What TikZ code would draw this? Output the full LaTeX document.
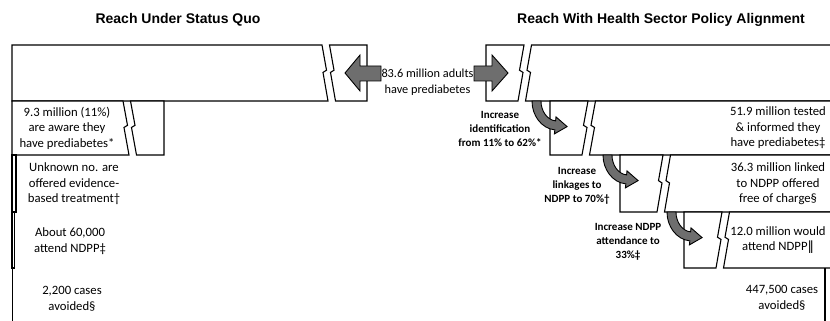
\documentclass[tikz,border=0pt]{standalone}
\usepackage{fontspec}
\setmainfont{Carlito}
\newfontfamily\headfont{Liberation Sans}
\newfontfamily\symfont{DejaVu Sans}
\definecolor{arrowgray}{RGB}{110,110,110}

% one bar row cut by a zigzag break: start, break, end, top, bottom, direction
\newcommand{\barpair}[6]{%
  \draw[bar] (#1,#4) -- (#2,#4) -- ({#2+(#6)*4.5},{#4+.45*(#5-#4)})
    -- ({#2+(#6)*1},{#4+.49*(#5-#4)}) -- ({#2+(#6)*6},#5) -- (#1,#5) -- cycle;
  \draw[bar] ({#2+7.5},#4) -- (#3,#4) -- (#3,#5) -- ({#2+7.5+(#6)*6},#5)
    -- ({#2+7.5+(#6)*1},{#4+.49*(#5-#4)}) -- ({#2+7.5+(#6)*4.5},{#4+.45*(#5-#4)}) -- cycle;
}
% curved arrow from the tail corner at (#1,#2)
\newcommand{\bendarrow}[2]{%
  \filldraw[blockarrow] (#1,#2) arc[start angle=180,end angle=95,x radius=25,y radius=29]
    -- (#1+22.4,#2+32.9) -- (#1+35.1,#2+25.6) -- (#1+24.0,#2+15.9) -- (#1+23.6,#2+19.9)
    arc[start angle=95,end angle=180,x radius=16,y radius=20] -- cycle;
}

\begin{document}
\begin{tikzpicture}[x=1pt,y=-1pt,
    bar/.style={draw=black,fill=white,line width=1.1pt,line join=miter},
    blockarrow/.style={draw=black,fill=arrowgray,line width=0.9pt,line join=miter},
    body/.style={align=center,inner sep=0pt,font=\fontsize{12.7}{15.5}\selectfont},
    cue/.style={align=center,inner sep=0pt,font=\fontsize{11}{14}\selectfont\bfseries},
    heading/.style={inner sep=0pt,font=\headfont\bfseries\fontsize{14}{16}\selectfont}]
  \useasboundingbox (0,0) rectangle (830,321);

  % status quo side
  \barpair{12}{322}{367}{45}{101}{1}
  \barpair{12}{123}{164}{101}{155}{1}
  \draw[bar] (12,155) rectangle (16,212);
  \draw[bar] (12,212) rectangle (14.5,268);
  \draw[bar] (12.5,268) -- (12.5,325);

  % policy alignment side
  \barpair{486}{524}{845}{45}{101}{-1}
  \barpair{550}{588}{845}{101}{155}{-1}
  \barpair{620}{663}{845}{155}{212}{-1}
  \barpair{684}{722}{845}{212}{268}{-1}
  \draw[bar] (825,268) -- (825,325);

  % arrows
  \filldraw[blockarrow] (381,66) -- (360,66) -- (360,55) -- (345,73) -- (360,91) -- (360,81) -- (381,81) -- cycle;
  \filldraw[blockarrow] (474,66) -- (492,66) -- (492,55) -- (508,73) -- (492,91) -- (492,81) -- (474,81) -- cycle;
  \bendarrow{532}{101}
  \bendarrow{603}{155}
  \bendarrow{667}{212}

  % titles
  \node[heading] (quo) at (178,20) {Reach Under Status Quo};
  \node[heading] (policy) at (661,20) {Reach With Health Sector Policy Alignment};

  \node[body,font=\fontsize{12.3}{15.5}\selectfont] (total) at (427.5,82) {83.6 million adults\\have prediabetes};

  \node[body] (aware) at (67,128) {9.3 million (11\%)\\are aware they\\have prediabetes*};
  \node[body] (offered) at (74,184) {Unknown no. are\\offered evidence-\\based treatment†};
  \node[body] (attend) at (70,241) {About 60,000\\attend NDPP‡};
  \node[body] (avoided) at (72,299) {2,200 cases\\avoided§};

  \node[body] (tested) at (778,128) {51.9 million tested\\\& informed they\\have prediabetes‡};
  \node[body] (linked) at (778,184) {36.3 million linked\\to NDPP offered\\free of charge§};
  \node[body] (would) at (778,240) {12.0 million would\\attend NDPP{\symfont ‖}};
  \node[body] (avoided2) at (782,298) {447,500 cases\\avoided§};

  \node[cue] (ident) at (500,129) {Increase\\identification\\from 11\% to 62\%*};
  \node[cue] (link) at (577,186) {Increase\\linkages to\\NDPP to 70\%†};
  \node[cue] (attendance) at (628,242) {Increase NDPP\\attendance to\\33\%‡};
\end{tikzpicture}
\end{document}
